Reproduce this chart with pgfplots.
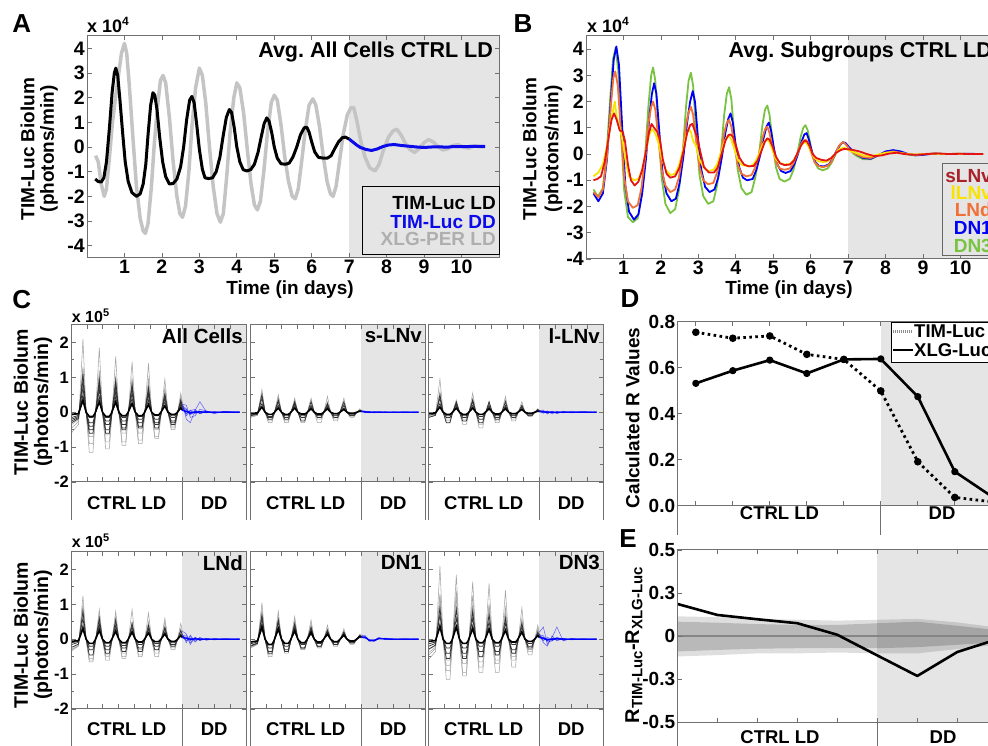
\documentclass[border=0pt]{standalone}
\usepackage{fontspec}
\setmainfont{Liberation Sans}
\usepackage{pgfplots}
\usepackage{pgfplotstable}
\pgfplotsset{compat=1.18}

\definecolor{bggray}{RGB}{229,229,229}
\definecolor{frame}{RGB}{112,112,112}
\definecolor{xlg}{RGB}{196,196,196}
\definecolor{xlgtxt}{RGB}{175,175,175}
\definecolor{tdd}{RGB}{10,10,235}
\definecolor{dnthree}{RGB}{120,195,65}
\definecolor{dnone}{RGB}{0,0,245}
\definecolor{lnd}{RGB}{240,112,55}
\definecolor{llnv}{RGB}{248,228,0}
\definecolor{slnv}{RGB}{228,20,20}
\definecolor{slnvtxt}{RGB}{170,32,40}

\newcommand\fs[1]{\fontsize{#1}{#1}\selectfont\bfseries}

\pgfplotsset{
  base/.style={anchor=south west, scale only axis, axis on top, tick align=inside,
    axis line style={frame, line width=1pt}, tick style={frame, line width=0.8pt},
    major tick length=4.5pt, minor tick length=3pt,
    /pgf/number format/assume math mode=true,
    tick label style={inner sep=2pt}},
  cstyle/.style={base, width=175pt, height=157pt, xmin=0, xmax=11, ymin=-2, ymax=2.5,
    xtick={1,...,10}, xticklabels={}, ytick={-2,-1,0,1,2},
    minor ytick={-1.5,-0.5,0.5,1.5}, yticklabels={},
    tick label style={font=\fs{16.5}}},
  ldgray/.style={black!35, line width=0.55pt},
  ldblack/.style={black!80, line width=0.75pt},
  ldmean/.style={black, line width=1.6pt},
  ddblue/.style={blue, line width=0.5pt, opacity=0.6},
  ddmean/.style={blue, line width=1.4pt},
}

% one C panel: x, y, table, gray columns, black columns, mean column, title, extra options
\newcommand{\cpanel}[8]{%
\begin{axis}[cstyle, at={(#1pt,#2pt)}, #8]
\fill[bggray] (7,-2) rectangle (11,2.5);
\pgfplotsinvokeforeach{#4}{%
  \addplot[ldgray, restrict x to domain=0:7] table[y index=##1]{#3};
  \addplot[ddblue, restrict x to domain=7:11] table[y index=##1]{#3};}
\pgfplotsinvokeforeach{#5}{%
  \addplot[ldblack, restrict x to domain=0:7] table[y index=##1]{#3};
  \addplot[ddblue, restrict x to domain=7:11] table[y index=##1]{#3};}
\addplot[ldmean, restrict x to domain=0:7] table[y index=#6]{#3};
\addplot[ddmean, restrict x to domain=7:11] table[y index=#6]{#3};
\node[anchor=north east, inner sep=3pt, font=\fs{20.5}] at (rel axis cs:1,1) {#7};
\end{axis}}

% category box under a C panel: left x, bottom of axis, lower end of lines, label y (used in a 1pt scope)
\newcommand{\catbox}[4]{%
\draw[frame, line width=1pt] (#1,#2) -- (#1,#3) (#1+111.4,#2) -- (#1+111.4,#3) (#1+175,#2) -- (#1+175,#3);
\node[font=\fs{18.5}] at (#1+55.7,#4) {CTRL LD};
\node[font=\fs{18.5}] at (#1+143.2,#4) {DD};}

\begin{document}

\pgfplotstableread{
x c1 c2 c3 c4 c5 c6 c7 c8 m
0.05 -0.58 -0.45 -0.35 -0.3 -0.25 -0.2 -0.15 -0.08 -0.06
0.47 -0.35 -0.27 -0.21 -0.18 -0.15 -0.12 -0.09 -0.05 -0.04
0.75 2.1 1.3 1.25 1.1 0.9 0.7 0.5 0.3 0.35
0.95 0 0 0 0 0 0 0 0 0
1.15 -1.15 -0.9 -0.7 -0.6 -0.5 -0.4 -0.3 -0.15 -0.12
1.38 -1.15 -0.9 -0.7 -0.6 -0.5 -0.4 -0.3 -0.15 -0.12
1.5 -0.35 -0.27 -0.21 -0.18 -0.15 -0.12 -0.09 -0.05 -0.04
1.78 1.85 1.2 1.0 0.95 0.8 0.65 0.45 0.3 0.3
1.98 0 0 0 0 0 0 0 0 0
2.18 -1.05 -0.85 -0.65 -0.6 -0.5 -0.35 -0.25 -0.15 -0.12
2.41 -1.05 -0.85 -0.65 -0.6 -0.5 -0.35 -0.25 -0.15 -0.12
2.53 -0.32 -0.26 -0.2 -0.18 -0.15 -0.11 -0.08 -0.05 -0.04
2.81 1.6 1.0 1.05 0.9 0.75 0.6 0.45 0.25 0.3
3.01 0 0 0 0 0 0 0 0 0
3.21 -0.95 -0.85 -0.6 -0.5 -0.45 -0.35 -0.25 -0.15 -0.1
3.44 -0.95 -0.85 -0.6 -0.5 -0.45 -0.35 -0.25 -0.15 -0.1
3.56 -0.29 -0.26 -0.18 -0.15 -0.14 -0.11 -0.08 -0.05 -0.03
3.84 1.45 1.0 0.85 0.8 0.7 0.55 0.4 0.25 0.25
4.04 0 0 0 0 0 0 0 0 0
4.24 -0.9 -0.8 -0.6 -0.45 -0.4 -0.3 -0.2 -0.12 -0.1
4.47 -0.9 -0.8 -0.6 -0.45 -0.4 -0.3 -0.2 -0.12 -0.1
4.59 -0.27 -0.24 -0.18 -0.14 -0.12 -0.09 -0.06 -0.04 -0.03
4.87 1.4 0.95 0.8 0.7 0.6 0.5 0.35 0.2 0.22
5.07 0 0 0 0 0 0 0 0 0
5.27 -0.75 -0.7 -0.5 -0.45 -0.35 -0.3 -0.2 -0.1 -0.08
5.5 -0.75 -0.7 -0.5 -0.45 -0.35 -0.3 -0.2 -0.1 -0.08
5.62 -0.23 -0.21 -0.15 -0.14 -0.11 -0.09 -0.06 -0.03 -0.02
5.9 0.95 0.7 0.6 0.5 0.5 0.4 0.3 0.2 0.18
6.1 0 0 0 0 0 0 0 0 0
6.3 -0.5 -0.45 -0.4 -0.35 -0.3 -0.25 -0.15 -0.1 -0.06
6.53 -0.5 -0.45 -0.4 -0.35 -0.3 -0.25 -0.15 -0.1 -0.06
6.65 -0.15 -0.14 -0.12 -0.11 -0.09 -0.08 -0.05 -0.03 -0.02
6.9 0.55 0.45 0.4 0.35 0.3 0.25 0.2 0.15 0.12
7.0 0.28 0.23 0.2 0.18 0.15 0.13 0.1 0.08 0.06
7.25 -0.2 0.2 -0.1 0.1 -0.05 0.08 0.05 -0.03 0.02
7.5 -0.3 -0.15 0.05 -0.08 0.06 -0.05 -0.04 0.03 -0.02
7.8 0.05 -0.1 0.08 0.05 -0.04 0.03 0.02 -0.02 0.0
8.1 0.3 0.08 -0.05 -0.04 0.03 -0.02 -0.02 0.02 0.01
8.5 0.02 0.04 0.03 0.02 -0.02 0.02 0.01 -0.01 0.0
9.0 -0.04 -0.02 -0.02 -0.02 0.01 -0.01 0.01 0.01 0.0
9.6 0.02 0.01 0.02 0.01 -0.01 0.01 -0.01 0.0 0.0
10.6 0.0 0.01 -0.01 0.0 0.01 0.0 0.0 0.0 0.0
}\tabAC

\pgfplotstableread{
x s1 s2 s3 s4 s5 m
0.05 -0.13 -0.15 -0.1 -0.08 -0.06 -0.03
0.47 -0.08 -0.09 -0.06 -0.05 -0.04 -0.02
0.75 0.65 0.55 0.4 0.5 0.25 0.15
0.95 0 0 0 0 0 0
1.15 -0.25 -0.3 -0.2 -0.15 -0.12 -0.06
1.38 -0.25 -0.3 -0.2 -0.15 -0.12 -0.06
1.5 -0.08 -0.09 -0.06 -0.05 -0.04 -0.02
1.78 0.5 0.45 0.35 0.3 0.2 0.12
1.98 0 0 0 0 0 0
2.18 -0.3 -0.25 -0.2 -0.15 -0.1 -0.06
2.41 -0.3 -0.25 -0.2 -0.15 -0.1 -0.06
2.53 -0.09 -0.08 -0.06 -0.05 -0.03 -0.02
2.81 0.4 0.35 0.3 0.25 0.2 0.12
3.01 0 0 0 0 0 0
3.21 -0.3 -0.2 -0.25 -0.15 -0.1 -0.05
3.44 -0.3 -0.2 -0.25 -0.15 -0.1 -0.05
3.56 -0.09 -0.06 -0.08 -0.05 -0.03 -0.02
3.84 0.35 0.4 0.3 0.2 0.15 0.1
4.04 0 0 0 0 0 0
4.24 -0.3 -0.2 -0.15 -0.1 -0.08 -0.05
4.47 -0.3 -0.2 -0.15 -0.1 -0.08 -0.05
4.59 -0.09 -0.06 -0.05 -0.03 -0.02 -0.02
4.87 0.45 0.3 0.25 0.2 0.15 0.1
5.07 0 0 0 0 0 0
5.27 -0.25 -0.2 -0.15 -0.1 -0.08 -0.04
5.5 -0.25 -0.2 -0.15 -0.1 -0.08 -0.04
5.62 -0.08 -0.06 -0.05 -0.03 -0.02 -0.01
5.9 0.4 0.25 0.2 0.3 0.12 0.08
6.1 0 0 0 0 0 0
6.3 -0.15 -0.1 -0.1 -0.1 -0.06 -0.03
6.53 -0.15 -0.1 -0.1 -0.1 -0.06 -0.03
6.65 -0.05 -0.03 -0.03 -0.03 -0.02 -0.01
6.9 0.1 0.08 0.05 0.05 0.05 0.03
7.0 0.05 0.04 0.03 0.03 0.03 0.02
7.25 0.03 -0.02 0.02 0.01 -0.01 0.01
7.5 -0.02 0.02 -0.01 0.02 0.01 0.0
7.8 0.02 -0.01 0.01 -0.02 0.01 0.0
8.1 -0.01 0.01 0.02 0.01 -0.01 0.0
8.5 0.01 -0.01 -0.01 0.01 0.01 0.0
9.0 -0.01 0.01 0.01 -0.01 0.0 0.0
9.6 0.01 0.0 -0.01 0.01 0.0 0.0
10.6 0.0 0.01 0.0 0.0 0.0 0.0
}\tabSL

\pgfplotstableread{
x l1 l2 l3 l4 l5 m
0.05 -0.1 -0.15 -0.13 -0.08 -0.05 -0.03
0.47 -0.06 -0.09 -0.08 -0.05 -0.03 -0.02
0.75 0.95 0.5 0.6 0.4 0.25 0.15
0.95 0 0 0 0 0 0
1.15 -0.2 -0.3 -0.25 -0.15 -0.1 -0.06
1.38 -0.2 -0.3 -0.25 -0.15 -0.1 -0.06
1.5 -0.06 -0.09 -0.08 -0.05 -0.03 -0.02
1.78 0.35 0.3 0.25 0.25 0.2 0.12
1.98 0 0 0 0 0 0
2.18 -0.35 -0.25 -0.2 -0.15 -0.1 -0.06
2.41 -0.35 -0.25 -0.2 -0.15 -0.1 -0.06
2.53 -0.11 -0.08 -0.06 -0.05 -0.03 -0.02
2.81 0.55 0.35 0.4 0.3 0.2 0.12
3.01 0 0 0 0 0 0
3.21 -0.45 -0.3 -0.35 -0.2 -0.12 -0.06
3.44 -0.45 -0.3 -0.35 -0.2 -0.12 -0.06
3.56 -0.14 -0.09 -0.11 -0.06 -0.04 -0.02
3.84 0.3 0.3 0.25 0.2 0.15 0.1
4.04 0 0 0 0 0 0
4.24 -0.3 -0.2 -0.25 -0.15 -0.1 -0.05
4.47 -0.3 -0.2 -0.25 -0.15 -0.1 -0.05
4.59 -0.09 -0.06 -0.08 -0.05 -0.03 -0.02
4.87 0.45 0.3 0.35 0.2 0.15 0.1
5.07 0 0 0 0 0 0
5.27 -0.25 -0.15 -0.2 -0.1 -0.08 -0.04
5.5 -0.25 -0.15 -0.2 -0.1 -0.08 -0.04
5.62 -0.08 -0.05 -0.06 -0.03 -0.02 -0.01
5.9 0.3 0.2 0.2 0.15 0.1 0.08
6.1 0 0 0 0 0 0
6.3 -0.1 -0.1 -0.12 -0.08 -0.05 -0.03
6.53 -0.1 -0.1 -0.12 -0.08 -0.05 -0.03
6.65 -0.03 -0.03 -0.04 -0.02 -0.02 -0.01
6.9 0.1 0.08 0.08 0.05 0.05 0.03
7.0 0.05 0.04 0.04 0.03 0.03 0.02
7.25 0.06 -0.03 0.04 0.02 -0.02 0.01
7.5 -0.05 0.04 -0.03 0.03 0.02 0.0
7.8 0.03 -0.05 0.02 -0.02 0.01 0.0
8.1 -0.04 0.02 -0.03 0.02 -0.01 0.0
8.5 0.02 -0.02 0.03 -0.01 0.01 0.0
9.0 -0.02 0.03 -0.01 0.01 0.0 0.0
9.6 0.01 -0.01 0.02 0.0 0.01 0.0
10.6 0.0 0.01 0.0 0.0 0.0 0.0
}\tabLL

\pgfplotstableread{
x n1 n2 n3 n4 n5 n6 m
0.05 -0.33 -0.28 -0.3 -0.23 -0.15 -0.1 -0.06
0.47 -0.2 -0.17 -0.18 -0.14 -0.09 -0.06 -0.04
0.75 1.25 1.0 0.9 0.8 0.6 0.4 0.3
0.95 0 0 0 0 0 0 0
1.15 -0.65 -0.55 -0.6 -0.45 -0.3 -0.2 -0.12
1.38 -0.65 -0.55 -0.6 -0.45 -0.3 -0.2 -0.12
1.5 -0.2 -0.17 -0.18 -0.14 -0.09 -0.06 -0.04
1.78 0.85 0.7 0.5 0.6 0.45 0.35 0.25
1.98 0 0 0 0 0 0 0
2.18 -0.6 -0.5 -0.45 -0.4 -0.3 -0.2 -0.1
2.41 -0.6 -0.5 -0.45 -0.4 -0.3 -0.2 -0.1
2.53 -0.18 -0.15 -0.14 -0.12 -0.09 -0.06 -0.03
2.81 0.8 0.65 0.5 0.55 0.4 0.3 0.22
3.01 0 0 0 0 0 0 0
3.21 -0.55 -0.5 -0.4 -0.35 -0.25 -0.18 -0.1
3.44 -0.55 -0.5 -0.4 -0.35 -0.25 -0.18 -0.1
3.56 -0.17 -0.15 -0.12 -0.11 -0.08 -0.05 -0.03
3.84 0.85 0.5 0.4 0.45 0.35 0.25 0.2
4.04 0 0 0 0 0 0 0
4.24 -0.5 -0.45 -0.3 -0.35 -0.25 -0.15 -0.08
4.47 -0.5 -0.45 -0.3 -0.35 -0.25 -0.15 -0.08
4.59 -0.15 -0.14 -0.09 -0.11 -0.08 -0.05 -0.02
4.87 0.75 0.5 0.3 0.4 0.3 0.2 0.18
5.07 0 0 0 0 0 0 0
5.27 -0.5 -0.4 -0.3 -0.3 -0.2 -0.12 -0.07
5.5 -0.5 -0.4 -0.3 -0.3 -0.2 -0.12 -0.07
5.62 -0.15 -0.12 -0.09 -0.09 -0.06 -0.04 -0.02
5.9 0.6 0.5 0.25 0.35 0.3 0.2 0.15
6.1 0 0 0 0 0 0 0
6.3 -0.3 -0.25 -0.2 -0.2 -0.15 -0.1 -0.06
6.53 -0.3 -0.25 -0.2 -0.2 -0.15 -0.1 -0.06
6.65 -0.09 -0.08 -0.06 -0.06 -0.05 -0.03 -0.02
6.9 0.45 0.3 0.2 0.25 0.15 0.1 0.1
7.0 0.23 0.15 0.1 0.13 0.08 0.05 0.05
7.25 0.15 -0.1 0.12 -0.05 0.06 -0.03 0.03
7.5 -0.1 0.12 -0.15 0.08 -0.04 0.03 0.0
7.8 0.05 -0.08 0.06 -0.06 0.03 -0.02 0.01
8.1 -0.04 0.05 -0.03 0.04 -0.02 0.02 0.0
8.5 0.02 -0.03 0.03 -0.02 0.01 -0.01 0.0
9.0 -0.02 0.02 -0.01 0.01 0.0 0.01 0.0
9.6 0.01 -0.01 0.01 0.0 0.01 0.0 0.0
10.6 0.0 0.01 0.0 0.0 0.0 0.0 0.0
}\tabLN

\pgfplotstableread{
x d1 d2 d3 d4 d5 d6 m
0.05 -0.23 -0.25 -0.18 -0.2 -0.13 -0.08 -0.08
0.47 -0.14 -0.15 -0.11 -0.12 -0.08 -0.05 -0.05
0.75 1.05 0.85 0.7 0.6 0.45 0.3 0.35
0.95 0 0 0 0 0 0 0
1.15 -0.45 -0.5 -0.35 -0.4 -0.25 -0.15 -0.15
1.38 -0.45 -0.5 -0.35 -0.4 -0.25 -0.15 -0.15
1.5 -0.14 -0.15 -0.11 -0.12 -0.08 -0.05 -0.05
1.78 0.8 0.65 0.55 0.5 0.35 0.25 0.3
1.98 0 0 0 0 0 0 0
2.18 -0.35 -0.4 -0.3 -0.35 -0.2 -0.12 -0.12
2.41 -0.35 -0.4 -0.3 -0.35 -0.2 -0.12 -0.12
2.53 -0.11 -0.12 -0.09 -0.11 -0.06 -0.04 -0.04
2.81 0.65 0.55 0.45 0.4 0.3 0.2 0.25
3.01 0 0 0 0 0 0 0
3.21 -0.3 -0.3 -0.25 -0.25 -0.15 -0.1 -0.1
3.44 -0.3 -0.3 -0.25 -0.25 -0.15 -0.1 -0.1
3.56 -0.09 -0.09 -0.08 -0.08 -0.05 -0.03 -0.03
3.84 0.55 0.45 0.35 0.3 0.25 0.15 0.2
4.04 0 0 0 0 0 0 0
4.24 -0.25 -0.25 -0.2 -0.2 -0.12 -0.08 -0.08
4.47 -0.25 -0.25 -0.2 -0.2 -0.12 -0.08 -0.08
4.59 -0.08 -0.08 -0.06 -0.06 -0.04 -0.02 -0.02
4.87 0.4 0.3 0.25 0.25 0.2 0.12 0.15
5.07 0 0 0 0 0 0 0
5.27 -0.2 -0.2 -0.15 -0.15 -0.1 -0.07 -0.07
5.5 -0.2 -0.2 -0.15 -0.15 -0.1 -0.07 -0.07
5.62 -0.06 -0.06 -0.05 -0.05 -0.03 -0.02 -0.02
5.9 0.3 0.25 0.2 0.2 0.15 0.1 0.12
6.1 0 0 0 0 0 0 0
6.3 -0.15 -0.12 -0.1 -0.1 -0.08 -0.05 -0.05
6.53 -0.15 -0.12 -0.1 -0.1 -0.08 -0.05 -0.05
6.65 -0.05 -0.04 -0.03 -0.03 -0.02 -0.02 -0.02
6.9 0.15 0.12 0.1 0.1 0.08 0.05 0.08
7.0 0.12 0.1 0.08 0.08 0.06 0.04 0.06
7.25 0.1 0.08 0.06 0.05 0.04 0.03 0.05
7.5 -0.04 -0.06 -0.03 -0.05 -0.02 -0.02 -0.03
7.8 -0.06 -0.04 -0.05 -0.03 -0.03 -0.01 -0.04
8.1 0.03 0.05 0.02 0.04 0.01 0.02 0.02
8.5 0.02 -0.01 0.03 0.0 0.01 0.0 0.01
9.0 -0.01 0.01 0.0 -0.01 0.0 0.0 0.0
9.6 0.01 0.0 0.01 0.0 0.0 0.0 0.0
10.6 0.0 0.01 0.0 0.0 0.0 0.0 0.0
}\tabDA

\pgfplotstableread{
x e1 e2 e3 e4 e5 e6 e7 m
0.05 -0.58 -0.45 -0.38 -0.3 -0.28 -0.2 -0.13 -0.06
0.47 -0.35 -0.27 -0.23 -0.18 -0.17 -0.12 -0.08 -0.04
0.75 2.1 1.3 1.25 1.0 0.9 0.7 0.45 0.35
0.95 0 0 0 0 0 0 0 0
1.15 -1.15 -0.9 -0.75 -0.6 -0.55 -0.4 -0.25 -0.12
1.38 -1.15 -0.9 -0.75 -0.6 -0.55 -0.4 -0.25 -0.12
1.5 -0.35 -0.27 -0.23 -0.18 -0.17 -0.12 -0.08 -0.04
1.78 1.85 1.4 1.0 1.2 0.85 0.6 0.4 0.35
1.98 0 0 0 0 0 0 0 0
2.18 -1.05 -0.95 -0.7 -0.5 -0.55 -0.4 -0.25 -0.12
2.41 -1.05 -0.95 -0.7 -0.5 -0.55 -0.4 -0.25 -0.12
2.53 -0.32 -0.29 -0.21 -0.15 -0.17 -0.12 -0.08 -0.04
2.81 1.65 1.25 1.0 0.9 0.8 0.6 0.4 0.3
3.01 0 0 0 0 0 0 0 0
3.21 -0.95 -0.8 -0.65 -0.5 -0.5 -0.35 -0.2 -0.1
3.44 -0.95 -0.8 -0.65 -0.5 -0.5 -0.35 -0.2 -0.1
3.56 -0.29 -0.24 -0.2 -0.15 -0.15 -0.11 -0.06 -0.03
3.84 1.6 1.0 0.85 0.95 0.7 0.5 0.35 0.28
4.04 0 0 0 0 0 0 0 0
4.24 -0.95 -0.7 -0.6 -0.45 -0.45 -0.35 -0.2 -0.1
4.47 -0.95 -0.7 -0.6 -0.45 -0.45 -0.35 -0.2 -0.1
4.59 -0.29 -0.21 -0.18 -0.14 -0.14 -0.11 -0.06 -0.03
4.87 1.4 0.9 0.75 0.7 0.6 0.45 0.3 0.25
5.07 0 0 0 0 0 0 0 0
5.27 -0.8 -0.6 -0.5 -0.4 -0.4 -0.3 -0.15 -0.08
5.5 -0.8 -0.6 -0.5 -0.4 -0.4 -0.3 -0.15 -0.08
5.62 -0.24 -0.18 -0.15 -0.12 -0.12 -0.09 -0.05 -0.02
5.9 0.9 0.6 0.5 0.5 0.45 0.35 0.25 0.2
6.1 0 0 0 0 0 0 0 0
6.3 -0.45 -0.35 -0.3 -0.3 -0.25 -0.2 -0.12 -0.06
6.53 -0.45 -0.35 -0.3 -0.3 -0.25 -0.2 -0.12 -0.06
6.65 -0.14 -0.11 -0.09 -0.09 -0.08 -0.06 -0.04 -0.02
6.9 0.4 0.3 0.25 0.3 0.2 0.15 0.12 0.1
7.0 0.2 0.15 0.13 0.15 0.1 0.08 0.06 0.05
7.25 0.35 -0.1 0.1 -0.05 0.05 0.03 -0.02 0.03
7.5 -0.15 -0.2 -0.08 0.06 -0.04 -0.03 0.02 -0.02
7.8 0.05 0.1 -0.05 -0.04 0.03 0.02 -0.02 0.0
8.1 0.35 -0.05 0.06 0.03 -0.02 -0.02 0.01 0.02
8.5 -0.05 0.03 -0.03 -0.02 0.02 0.01 0.0 0.0
9.0 0.02 -0.02 0.02 0.01 -0.01 0.0 0.0 0.0
9.6 -0.01 0.01 0.0 0.0 0.01 0.0 0.0 0.0
10.6 0.0 0.0 0.01 0.0 0.0 0.0 0.0 0.0
}\tabDB

\begin{tikzpicture}
\path[use as bounding box] (0pt,0pt) rectangle (988pt,746pt);

% ---------- A ----------
\begin{axis}[base, at={(87pt,488pt)}, width=412pt, height=222pt,
  xmin=0, xmax=11, ymin=-4.5, ymax=4.5, xtick={1,...,10}, ytick={-4,...,4},
  tick label style={font=\fs{19.5}}]
\fill[bggray] (7,-4.5) rectangle (11,4.5);
\addplot[xlg, line width=3.5pt, line join=round] coordinates {
(0.23,-0.35)(0.30,-0.6)(0.38,-1.5)(0.46,-2.0)(0.52,-1.7)(0.60,-0.4)(0.68,1.0)(0.76,2.0)(0.84,2.9)(0.92,3.8)(1.00,4.2)(1.06,3.8)(1.13,2.5)(1.22,0.5)(1.32,-1.6)(1.42,-2.9)(1.50,-3.4)(1.56,-3.5)(1.63,-3.1)(1.72,-1.6)(1.80,0.2)(1.88,1.6)(1.96,2.7)(2.03,2.9)(2.10,2.6)(2.20,1.2)(2.30,-0.6)(2.40,-2.0)(2.48,-2.7)(2.55,-2.85)(2.63,-2.4)(2.72,-1.0)(2.80,0.8)(2.90,2.4)(3.00,3.2)(3.08,2.9)(3.17,1.8)(3.27,0.0)(3.37,-1.6)(3.47,-2.7)(3.56,-3.05)(3.64,-2.7)(3.73,-1.2)(3.82,0.6)(3.92,2.0)(4.00,2.6)(4.08,2.4)(4.18,1.4)(4.28,-0.1)(4.38,-1.5)(4.47,-2.35)(4.55,-2.55)(4.63,-2.2)(4.72,-1.0)(4.82,0.6)(4.92,1.8)(5.00,2.1)(5.08,1.9)(5.18,0.9)(5.28,-0.4)(5.38,-1.4)(5.48,-2.0)(5.56,-2.1)(5.64,-1.7)(5.73,-0.6)(5.83,0.7)(5.93,1.7)(6.03,1.95)(6.11,1.7)(6.21,0.8)(6.31,-0.4)(6.41,-1.4)(6.50,-1.9)(6.57,-2.0)(6.65,-1.6)(6.74,-0.6)(6.84,0.5)(6.95,1.3)(7.05,1.6)(7.12,1.6)(7.20,1.1)(7.30,0.3)(7.42,-0.4)(7.55,-0.85)(7.69,-0.97)(7.80,-0.7)(7.92,-0.1)(8.05,0.4)(8.17,0.65)(8.27,0.72)(8.38,0.5)(8.50,0.15)(8.62,-0.1)(8.75,-0.22)(8.88,-0.05)(9.00,0.18)(9.12,0.3)(9.25,0.2)(9.38,0.0)(9.50,-0.12)(9.62,-0.08)(9.75,0.05)(9.90,0.1)(10.05,0.0)(10.20,-0.05)(10.35,0.05)(10.50,0.0)(10.63,0.0)};
\addplot[black, line width=3pt, line join=round] coordinates {
(0.22,-1.30)(0.30,-1.40)(0.38,-1.42)(0.45,-1.25)(0.52,-0.6)(0.60,0.8)(0.67,2.2)(0.73,3.0)(0.77,3.2)(0.82,2.9)(0.88,1.9)(0.95,0.6)(1.02,-0.6)(1.10,-1.4)(1.20,-1.85)(1.32,-2.0)(1.42,-1.9)(1.50,-1.5)(1.57,-0.7)(1.63,0.5)(1.70,1.7)(1.76,2.2)(1.81,2.1)(1.87,1.5)(1.94,0.4)(2.02,-0.6)(2.10,-1.2)(2.20,-1.5)(2.30,-1.48)(2.40,-1.3)(2.50,-0.8)(2.58,0.0)(2.66,1.1)(2.74,1.9)(2.80,2.05)(2.86,1.8)(2.93,0.9)(3.00,-0.1)(3.08,-0.9)(3.15,-1.25)(3.25,-1.28)(3.35,-1.25)(3.45,-1.0)(3.55,-0.4)(3.63,0.4)(3.72,1.2)(3.80,1.52)(3.86,1.4)(3.93,0.8)(4.00,0.0)(4.08,-0.6)(4.17,-0.92)(4.27,-0.97)(4.37,-0.92)(4.47,-0.7)(4.57,-0.2)(4.65,0.4)(4.73,0.95)(4.80,1.18)(4.86,1.05)(4.93,0.6)(5.00,0.0)(5.08,-0.45)(5.18,-0.68)(5.30,-0.70)(5.40,-0.65)(5.50,-0.4)(5.60,0.0)(5.70,0.5)(5.80,0.78)(5.87,0.80)(5.93,0.6)(6.00,0.2)(6.08,-0.2)(6.18,-0.42)(6.30,-0.45)(6.42,-0.45)(6.52,-0.35)(6.62,-0.05)(6.72,0.22)(6.82,0.38)(6.90,0.40)(7.00,0.32)};
\addplot[tdd, line width=3pt, line join=round] coordinates {
(7.00,0.32)(7.10,0.2)(7.20,0.08)(7.30,-0.02)(7.45,-0.1)(7.60,-0.14)(7.75,-0.08)(7.90,0.02)(8.05,0.08)(8.20,0.1)(8.40,0.06)(8.60,0.03)(8.80,0.0)(9.00,-0.02)(9.20,0.0)(9.40,0.01)(9.60,-0.01)(9.80,0.02)(10.00,0.01)(10.20,0.02)(10.40,0.02)(10.63,0.02)};
\end{axis}

% ---------- B ----------
\begin{axis}[base, at={(586pt,487pt)}, width=412pt, height=223pt,
  xmin=0, xmax=11, ymin=-4, ymax=4.5, xtick={1,...,10}, ytick={-4,...,4},
  tick label style={font=\fs{19.5}}]
\fill[bggray] (7,-4) rectangle (11,4.5);
\addplot[dnthree, line width=1.8pt, line join=round] coordinates {
(0.2,-1.35)(0.32,-1.62)(0.45,-1.3)(0.55,0.0)(0.65,2.2)(0.72,3.6)(0.79,4.05)(0.86,3.2)(0.93,1.0)(1.02,-1.4)(1.12,-2.4)(1.25,-2.6)(1.38,-2.45)(1.48,-1.6)(1.58,0.0)(1.67,1.9)(1.74,3.0)(1.79,3.3)(1.85,2.8)(1.93,1.0)(2.02,-0.9)(2.12,-1.9)(2.25,-2.25)(2.38,-2.1)(2.48,-1.4)(2.58,0.0)(2.67,1.8)(2.74,2.8)(2.80,3.1)(2.86,2.6)(2.94,0.9)(3.03,-0.8)(3.13,-1.6)(3.26,-1.9)(3.40,-1.8)(3.50,-1.2)(3.60,0.0)(3.69,1.5)(3.76,2.3)(3.82,2.55)(3.88,2.1)(3.96,0.7)(4.05,-0.6)(4.15,-1.3)(4.28,-1.55)(4.42,-1.45)(4.52,-0.9)(4.62,0.0)(4.71,1.1)(4.78,1.7)(4.84,1.85)(4.90,1.5)(4.98,0.5)(5.07,-0.5)(5.17,-0.95)(5.30,-1.05)(5.44,-0.95)(5.54,-0.6)(5.64,0.0)(5.73,0.65)(5.80,1.0)(5.86,1.1)(5.92,0.9)(6.00,0.3)(6.10,-0.3)(6.20,-0.55)(6.32,-0.62)(6.45,-0.55)(6.55,-0.35)(6.65,-0.05)(6.75,0.25)(6.82,0.4)(6.88,0.45)(6.95,0.35)(7.05,0.15)(7.2,-0.05)(7.4,-0.2)(7.6,-0.2)(7.8,-0.05)(8.0,0.08)(8.2,0.12)(8.4,0.05)(8.6,-0.02)(8.8,-0.05)(9.0,-0.02)(9.3,0.02)(9.6,0.0)(9.9,0.01)(10.2,0.0)(10.6,0.0)};
\addplot[dnone, line width=1.8pt, line join=round] coordinates {
(0.2,-1.5)(0.33,-1.8)(0.45,-1.5)(0.56,-0.2)(0.66,2.0)(0.74,3.6)(0.81,4.1)(0.88,3.4)(0.96,1.2)(1.05,-1.2)(1.15,-2.2)(1.28,-2.5)(1.40,-2.3)(1.50,-1.5)(1.60,-0.2)(1.69,1.4)(1.76,2.3)(1.82,2.7)(1.88,2.3)(1.96,0.8)(2.05,-0.8)(2.15,-1.5)(2.28,-1.8)(2.40,-1.7)(2.50,-1.1)(2.60,-0.1)(2.70,1.2)(2.78,2.0)(2.85,2.4)(2.91,2.0)(2.99,0.6)(3.08,-0.6)(3.18,-1.25)(3.30,-1.45)(3.43,-1.35)(3.53,-0.9)(3.63,-0.1)(3.72,0.8)(3.80,1.35)(3.86,1.55)(3.92,1.2)(4.00,0.3)(4.09,-0.5)(4.19,-0.9)(4.30,-1.0)(4.45,-0.95)(4.55,-0.6)(4.65,-0.05)(4.74,0.6)(4.82,1.05)(4.88,1.2)(4.94,0.9)(5.02,0.2)(5.11,-0.4)(5.21,-0.65)(5.33,-0.72)(5.46,-0.65)(5.56,-0.4)(5.66,0.0)(5.75,0.45)(5.83,0.75)(5.89,0.8)(5.95,0.55)(6.03,0.1)(6.12,-0.3)(6.22,-0.45)(6.35,-0.47)(6.48,-0.4)(6.58,-0.2)(6.68,0.1)(6.78,0.35)(6.86,0.45)(6.93,0.42)(7.03,0.25)(7.2,0.0)(7.4,-0.15)(7.6,-0.18)(7.8,-0.05)(8.0,0.1)(8.2,0.15)(8.4,0.1)(8.6,0.0)(8.8,-0.05)(9.0,-0.03)(9.3,0.02)(9.6,0.0)(9.9,0.0)(10.2,0.01)(10.6,0.0)};
\addplot[lnd, line width=1.8pt, line join=round] coordinates {
(0.2,-1.45)(0.33,-1.65)(0.45,-1.35)(0.56,-0.1)(0.66,1.8)(0.73,2.9)(0.78,3.15)(0.85,2.6)(0.93,0.9)(1.02,-0.9)(1.12,-1.8)(1.25,-2.05)(1.38,-1.95)(1.48,-1.3)(1.58,-0.1)(1.67,1.2)(1.74,1.8)(1.79,2.0)(1.85,1.7)(1.93,0.6)(2.02,-0.6)(2.12,-1.2)(2.25,-1.45)(2.38,-1.35)(2.48,-0.9)(2.58,0.0)(2.67,1.1)(2.74,1.6)(2.80,1.8)(2.86,1.5)(2.94,0.5)(3.03,-0.5)(3.13,-1.0)(3.26,-1.15)(3.40,-1.1)(3.50,-0.7)(3.60,0.0)(3.69,0.8)(3.76,1.2)(3.82,1.3)(3.88,1.05)(3.96,0.35)(4.05,-0.4)(4.15,-0.75)(4.28,-0.85)(4.42,-0.8)(4.52,-0.5)(4.62,0.0)(4.71,0.6)(4.78,0.95)(4.84,1.05)(4.90,0.8)(4.98,0.25)(5.07,-0.3)(5.17,-0.55)(5.30,-0.6)(5.44,-0.55)(5.54,-0.35)(5.64,0.0)(5.73,0.35)(5.80,0.5)(5.86,0.55)(5.92,0.45)(6.00,0.1)(6.10,-0.3)(6.20,-0.45)(6.32,-0.5)(6.45,-0.45)(6.55,-0.3)(6.65,0.0)(6.75,0.3)(6.82,0.42)(6.88,0.45)(6.95,0.35)(7.05,0.15)(7.2,0.0)(7.4,-0.12)(7.6,-0.15)(7.8,-0.05)(8.0,0.05)(8.2,0.1)(8.4,0.05)(8.6,0.0)(8.8,-0.03)(9.0,0.0)(9.3,0.02)(9.6,0.0)(9.9,0.01)(10.2,0.0)(10.6,0.0)};
\addplot[llnv, line width=1.8pt, line join=round] coordinates {
(0.2,-0.85)(0.33,-0.7)(0.45,-0.4)(0.56,0.3)(0.66,1.2)(0.73,1.7)(0.77,2.0)(0.82,1.4)(0.90,1.0)(0.98,0.5)(1.06,-0.3)(1.15,-0.85)(1.28,-1.0)(1.40,-0.95)(1.50,-0.6)(1.60,0.1)(1.68,0.7)(1.75,0.95)(1.80,0.9)(1.86,0.75)(1.94,0.4)(2.03,-0.2)(2.13,-0.6)(2.25,-0.8)(2.38,-0.75)(2.48,-0.45)(2.58,0.1)(2.67,0.7)(2.74,0.95)(2.80,0.85)(2.86,0.5)(2.94,0.3)(3.03,-0.2)(3.13,-0.5)(3.26,-0.65)(3.40,-0.6)(3.50,-0.4)(3.60,0.05)(3.69,0.45)(3.76,0.65)(3.82,0.7)(3.88,0.55)(3.96,0.2)(4.05,-0.2)(4.15,-0.4)(4.28,-0.45)(4.42,-0.45)(4.52,-0.3)(4.62,0.0)(4.71,0.35)(4.78,0.5)(4.84,0.55)(4.90,0.45)(4.98,0.15)(5.07,-0.2)(5.17,-0.35)(5.30,-0.4)(5.44,-0.38)(5.54,-0.25)(5.64,0.0)(5.73,0.3)(5.80,0.42)(5.86,0.45)(5.92,0.35)(6.00,0.1)(6.10,-0.15)(6.20,-0.28)(6.32,-0.3)(6.45,-0.28)(6.55,-0.15)(6.65,0.0)(6.75,0.15)(6.82,0.22)(6.88,0.25)(6.95,0.2)(7.05,0.12)(7.2,0.05)(7.4,-0.05)(7.6,-0.08)(7.8,-0.02)(8.0,0.05)(8.2,0.07)(8.4,0.03)(8.6,0.0)(8.8,-0.02)(9.0,0.0)(9.3,0.01)(9.6,0.0)(9.9,0.0)(10.2,0.0)(10.6,0.0)};
\addplot[slnv, line width=1.8pt, line join=round] coordinates {
(0.2,-1.0)(0.3,-0.95)(0.4,-0.85)(0.5,-0.3)(0.6,0.6)(0.68,1.3)(0.75,1.55)(0.82,1.3)(0.90,0.9)(0.98,0.85)(1.04,0.5)(1.12,-0.4)(1.20,-1.0)(1.30,-1.2)(1.40,-1.05)(1.50,-0.6)(1.60,0.1)(1.68,0.8)(1.75,1.15)(1.82,1.0)(1.90,0.85)(1.97,0.6)(2.05,-0.2)(2.15,-0.75)(2.25,-0.9)(2.38,-0.85)(2.50,-0.5)(2.60,0.1)(2.70,0.8)(2.78,1.1)(2.84,1.15)(2.90,0.9)(2.97,0.65)(3.05,0.1)(3.15,-0.5)(3.28,-0.7)(3.42,-0.7)(3.52,-0.5)(3.62,0.0)(3.72,0.5)(3.80,0.72)(3.86,0.75)(3.93,0.65)(4.00,0.35)(4.10,-0.15)(4.22,-0.4)(4.35,-0.47)(4.48,-0.45)(4.58,-0.25)(4.68,0.1)(4.77,0.45)(4.84,0.6)(4.90,0.55)(4.98,0.3)(5.07,-0.1)(5.18,-0.35)(5.30,-0.42)(5.44,-0.4)(5.55,-0.25)(5.65,0.05)(5.75,0.35)(5.83,0.5)(5.90,0.48)(5.97,0.3)(6.05,0.0)(6.15,-0.15)(6.28,-0.22)(6.42,-0.25)(6.55,-0.15)(6.68,0.05)(6.80,0.15)(6.90,0.2)(7.00,0.18)(7.15,0.15)(7.30,0.1)(7.50,0.0)(7.70,-0.08)(7.90,-0.05)(8.10,0.02)(8.30,0.05)(8.50,0.0)(8.80,-0.03)(9.10,0.0)(9.40,0.02)(9.70,0.0)(10.00,0.01)(10.30,0.0)(10.60,0.0)};
\end{axis}

% ---------- C ----------
\cpanel{71}{264}{\tabAC}{1,2,3}{4,5,6,7,8}{9}{All Cells}{yticklabels={-2,-1,0,1,2}}
\cpanel{250}{264}{\tabSL}{1,2}{3,4,5}{6}{s-LNv}{}
\cpanel{428}{264}{\tabLL}{1,3}{2,4,5}{6}{l-LNv}{}
\cpanel{71}{37}{\tabLN}{1,2,3}{4,5,6}{7}{LNd}{yticklabels={-2,-1,0,1,2}}
\cpanel{250}{37}{\tabDA}{1,2}{3,4,5,6}{7}{DN1}{}
\cpanel{428}{37}{\tabDB}{1,2,3,4}{5,6,7}{8}{DN3}{}

% ---------- D ----------
\begin{axis}[base, at={(677.3pt,240.3pt)}, width=325.6pt, height=184pt,
  xmin=0.5, xmax=9.3, ymin=0, ymax=0.8, xtick={1,...,9}, xticklabels={},
  ytick={0,0.2,0.4,0.6,0.8}, yticklabels={0.0,0.2,0.4,0.6,0.8},
  tick label style={font=\fs{19}}]
\fill[bggray] (6,0) rectangle (9.3,0.8);
\addplot[black, line width=2.8pt, dash pattern=on 2.6pt off 3.4pt, mark=*, mark size=2.3pt, mark options={solid}]
  coordinates {(1,0.754)(2,0.728)(3,0.738)(4,0.658)(5,0.636)(6,0.499)(7,0.191)(8,0.036)(9,0.017)};
\addplot[black, line width=2.6pt, line join=round, mark=*, mark size=2.3pt]
  coordinates {(1,0.532)(2,0.587)(3,0.633)(4,0.575)(5,0.636)(6,0.638)(7,0.474)(8,0.148)(9,0.04)};
\end{axis}

% ---------- E ----------
\begin{axis}[base, at={(677.3pt,23.7pt)}, width=332pt, height=172.3pt,
  xmin=1, xmax=9.3, ymin=-0.5, ymax=0.5, xtick={2,...,9}, xticklabels={},
  ytick={-0.5,-0.25,0,0.25,0.5}, yticklabels={-0.5,-0.3,0,0.3,0.5},
  tick label style={font=\fs{19}}]
\fill[bggray] (6,-0.5) rectangle (9.3,0.5);
\addplot[draw=none, fill=black, fill opacity=0.13] coordinates {
(1,0.115)(2,0.11)(3,0.1)(4,0.095)(5,0.09)(6,0.095)(7,0.1)(8,0.08)(9,0.05)(9.3,0.04)
(9.3,-0.04)(9,-0.05)(8,-0.075)(7,-0.1)(6,-0.1)(5,-0.095)(4,-0.1)(3,-0.1)(2,-0.11)(1,-0.118)} -- cycle;
\addplot[draw=none, fill=black, fill opacity=0.17] coordinates {
(1,0.084)(2,0.078)(3,0.07)(4,0.065)(5,0.065)(6,0.075)(7,0.084)(8,0.06)(9,0.035)(9.3,0.03)
(9.3,-0.03)(9,-0.035)(8,-0.05)(7,-0.064)(6,-0.07)(5,-0.07)(4,-0.07)(3,-0.073)(2,-0.08)(1,-0.089)} -- cycle;
\addplot[black!48, line width=1.6pt] coordinates {(1,0)(9.3,0)};
\addplot[black, line width=2.6pt, line join=round] coordinates {
(1,0.187)(2,0.123)(3,0.098)(4,0.075)(5,0.008)(6,-0.112)(7,-0.231)(8,-0.092)(9,-0.018)};
\end{axis}

% ---------- texts, boxes, legends (1 unit = 1pt) ----------
\begin{scope}[x=1pt,y=1pt]
\catbox{71}{264}{226}{243}
\catbox{250}{264}{226}{243}
\catbox{428}{264}{226}{243}
\catbox{71}{37}{0}{17}
\catbox{250}{37}{0}{17}
\catbox{428}{37}{0}{17}

\draw[frame, line width=1pt] (677.3,240.3) -- (677.3,211) (880.8,240.3) -- (880.8,211);
\node[font=\fs{18.5}] at (779.5,232.5) {CTRL LD};
\node[font=\fs{18.5}] at (942,232.5) {DD};
\draw[black, line width=1pt, fill=white] (891.7,383.7) rectangle (1000,423.7);
\draw[black!45, line width=2.5pt, dash pattern=on 1pt off 1pt] (893,414.3) -- (913,414.3);
\draw[black, line width=2.5pt] (893,396) -- (913,396);
\node[anchor=west, inner sep=1pt, font=\fs{18.5}] at (913,414.3) {TIM-Luc};
\node[anchor=west, inner sep=1pt, font=\fs{18.5}] at (913,396) {XLG-Luc};

\draw[frame, line width=1pt] (677.3,23.7) -- (677.3,0) (877.3,23.7) -- (877.3,0);
\node[font=\fs{18.5}] at (780,9.3) {CTRL LD};
\node[font=\fs{18.5}] at (943,9.3) {DD};

\node[font=\fs{26}] at (21.7,722) {A};
\node[font=\fs{26}] at (523,722) {B};
\node[font=\fs{26}] at (21.7,446) {C};
\node[font=\fs{26}] at (630,447) {D};
\node[font=\fs{26}] at (628,207) {E};

\node[anchor=base west, inner sep=0pt] at (87,713) {\fs{18}x 10\raisebox{7pt}{\fs{12}4}};
\node[anchor=base west, inner sep=0pt] at (587,713) {\fs{18}x 10\raisebox{7pt}{\fs{12}4}};
\node[anchor=base west, inner sep=0pt] at (71.7,423) {\fs{16}x 10\raisebox{6pt}{\fs{11}5}};
\node[anchor=base west, inner sep=0pt] at (71.7,198) {\fs{16}x 10\raisebox{6pt}{\fs{11}5}};

\node[anchor=east, inner sep=0pt, font=\fs{21.5}] at (493,694) {Avg.\ All Cells CTRL LD};
\node[anchor=east, inner sep=0pt, font=\fs{21.5}] at (992,694) {Avg.\ Subgroups CTRL LD};

\node[font=\fs{19}] at (290,456) {Time (in days)};
\node[font=\fs{19}] at (789,456) {Time (in days)};

\node[rotate=90, font=\fs{19}] at (27.5,597) {TIM-Luc Biolum};
\node[rotate=90, font=\fs{19}] at (49,597) {(photons/min)};
\node[rotate=90, font=\fs{19}] at (529.5,597) {TIM-Luc Biolum};
\node[rotate=90, font=\fs{19}] at (553.5,597) {(photons/min)};
\node[rotate=90, font=\fs{19.5}] at (20.8,344) {TIM-Luc Biolum};
\node[rotate=90, font=\fs{19.5}] at (43,344) {(photons/min)};
\node[rotate=90, font=\fs{19.5}] at (20.8,111) {TIM-Luc Biolum};
\node[rotate=90, font=\fs{19.5}] at (43,111) {(photons/min)};
\node[rotate=90, font=\fs{19}] at (632.5,328) {Calculated R Values};
\node[rotate=90, font=\fs{20}] at (634,101) {R\textsubscript{\fs{15}TIM-Luc}-R\textsubscript{\fs{15}XLG-Luc}};

\draw[black, line width=1pt, fill=bggray] (362,491) rectangle (499,559);
\node[anchor=east, inner sep=0pt, font=\fs{19}] at (496,543) {TIM-Luc LD};
\node[anchor=east, inner sep=0pt, font=\fs{19}, text=tdd] at (496,524) {TIM-Luc DD};
\node[anchor=east, inner sep=0pt, font=\fs{19}, text=xlgtxt] at (496,507) {XLG-PER LD};
\draw[black!60, line width=1pt, fill=bggray] (942,490) rectangle (1000,582);
\node[anchor=east, inner sep=0pt, font=\fs{19}, text=slnvtxt] at (992,570) {sLNv};
\node[anchor=east, inner sep=0pt, font=\fs{19}, text=llnv] at (992,553) {lLNv};
\node[anchor=east, inner sep=0pt, font=\fs{19}, text=lnd] at (992,536) {LNd};
\node[anchor=east, inner sep=0pt, font=\fs{19}, text=dnone] at (992,518) {DN1};
\node[anchor=east, inner sep=0pt, font=\fs{19}, text=dnthree] at (992,500) {DN3};
\end{scope}
\end{tikzpicture}
\end{document}
